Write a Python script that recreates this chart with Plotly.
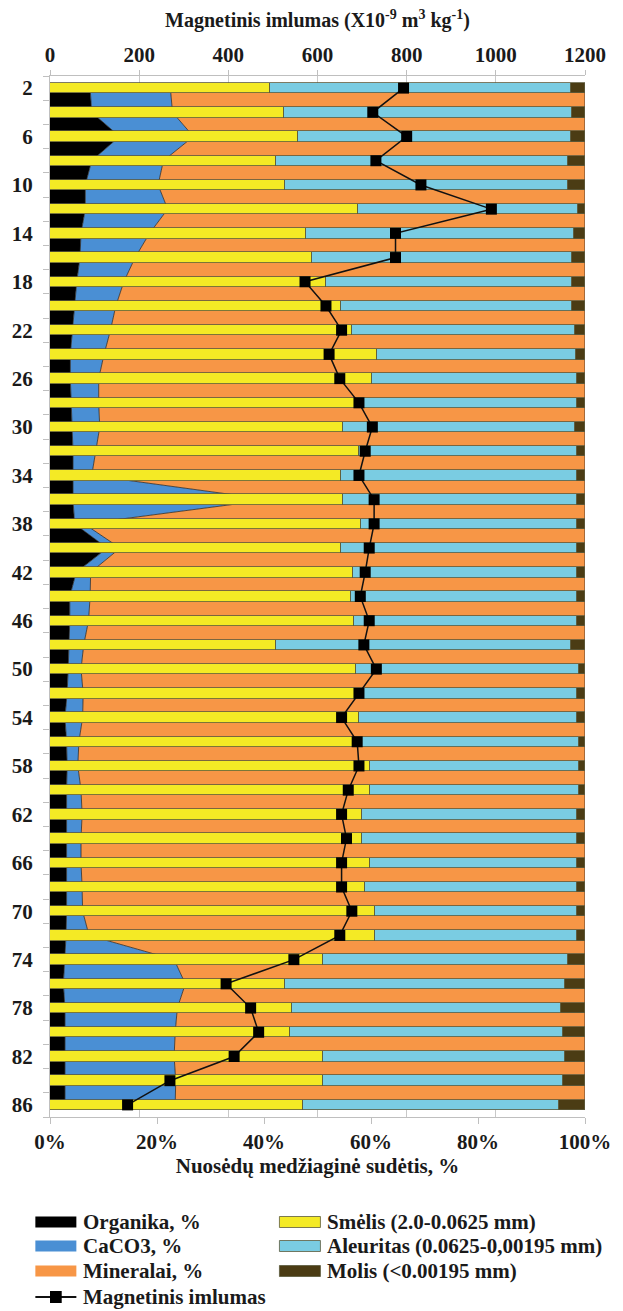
import plotly.graph_objects as go

# Depth of each sample (cm)
depth = list(range(2, 87, 2))

# Sediment composition, %
organika = [7.5, 7.8, 13.0, 7.8, 6.6, 6.6, 5.8, 5.6, 5.0, 4.6, 4.1, 3.8, 3.8, 4.0, 4.2,
            4.3, 4.3, 4.3, 4.6, 10.7, 4.9, 3.7, 3.7, 3.6, 3.4, 3.2, 2.8, 3.1, 3.2, 3.1,
            3.1, 3.2, 3.1, 3.1, 3.1, 3.0, 2.7, 2.5, 2.8, 2.8, 2.8, 2.8, 2.8]
caco3 = [15.0, 15.1, 13.8, 13.4, 13.6, 15.4, 12.8, 10.3, 8.8, 7.7, 7.2, 6.3, 5.3, 5.1, 5.1,
         4.3, 3.5, 36.7, 1.8, 2.4, 2.7, 3.8, 3.5, 2.7, 2.4, 3.0, 3.3, 2.3, 2.0, 2.7,
         2.9, 2.6, 2.7, 2.9, 3.0, 4.3, 20.5, 22.8, 21.0, 20.6, 20.4, 20.7, 20.6]
mineralai = [77.5, 77.1, 73.2, 78.8, 79.8, 78.0, 81.4, 84.1, 86.2, 87.7, 88.7, 89.9, 90.9, 90.9, 90.7,
             91.4, 92.2, 59.0, 93.6, 86.9, 92.4, 92.5, 92.8, 93.7, 94.2, 93.8, 93.9, 94.6, 94.8, 94.2,
             94.0, 94.2, 94.2, 94.0, 93.9, 92.7, 76.8, 74.7, 76.2, 76.6, 76.8, 76.5, 76.6]

# Grain size fractions, %
smelis = [41.1, 43.7, 46.3, 42.3, 43.9, 57.5, 47.8, 48.9, 51.5, 54.3, 56.5, 61.1, 60.2, 57.5, 54.7,
          57.8, 54.3, 54.7, 58.2, 54.3, 56.6, 56.2, 56.8, 42.3, 57.2, 57.2, 57.8, 57.2, 59.9, 59.9,
          58.4, 58.4, 59.9, 58.9, 60.8, 60.8, 51.1, 43.9, 45.3, 44.9, 51.1, 51.1, 47.2]
aleuritas = [56.2, 53.9, 51.0, 54.5, 52.9, 41.1, 50.1, 48.7, 46.1, 43.3, 41.7, 37.2, 38.3, 41.0, 43.5,
             40.7, 44.2, 43.8, 40.3, 44.2, 41.9, 42.3, 41.7, 55.0, 41.6, 41.3, 40.7, 41.6, 38.9, 38.9,
             40.1, 40.1, 38.6, 39.6, 37.7, 37.7, 45.7, 52.3, 50.3, 51.0, 45.1, 44.8, 47.9]
molis = [2.7, 2.4, 2.7, 3.2, 3.2, 1.4, 2.1, 2.4, 2.4, 2.4, 1.8, 1.7, 1.5, 1.5, 1.8,
         1.5, 1.5, 1.5, 1.5, 1.5, 1.5, 1.5, 1.5, 2.7, 1.2, 1.5, 1.5, 1.2, 1.2, 1.2,
         1.5, 1.5, 1.5, 1.5, 1.5, 1.5, 3.2, 3.8, 4.4, 4.1, 3.8, 4.1, 4.9]

# Magnetic susceptibility, x10^-9 m3/kg
magnetinis = [793, 724, 800, 731, 832, 990, 775, 775, 572, 619, 654, 626, 650, 693, 723,
              707, 693, 727, 727, 716, 707, 696, 716, 704, 732, 693, 654, 689, 693, 669,
              654, 665, 654, 654, 677, 650, 547, 395, 450, 468, 413, 269, 174]

depth_ticks = list(range(2, 87, 4))
pct_ticks = [0, 20, 40, 60, 80, 100]
pct_labels = ["0%", "20%", "40%", "60%", "80%", "100%"]
mag_ticks = [0, 200, 400, 600, 800, 1000, 1200]

SERIF = "Liberation Serif, Times New Roman, serif"
INK = "#1a1a1a"
GRID = "#c8c8c8"

W, H = 623, 1311
ML, MR, MT, MB = 48, 27, 76, 194
PW, PH = W - ML - MR, H - MT - MB


def bold(size):
    return dict(family=SERIF, size=size, color=INK, weight="bold")


composition = [
    ("Organika, %", organika, "#000000"),
    ("CaCO3, %", caco3, "#4A8FD4"),
    ("Mineralai, %", mineralai, "#F79646"),
]
grain = [
    ("Smėlis (2.0-0.0625 mm)", smelis, "#F4EA25"),
    ("Aleuritas (0.0625-0,00195 mm)", aleuritas, "#7ACCE2"),
    ("Molis (&lt;0.00195 mm)", molis, "#4B3C14"),
]

fig = go.Figure()

# Stacked composition profile (area) on the bottom % axis
for i, (name, vals, col) in enumerate(composition):
    fig.add_trace(go.Scatter(
        x=vals, y=depth, name=name, stackgroup="sudetis", orientation="h",
        groupnorm="percent" if i == 0 else None,
        mode="lines", line=dict(color="#2a2a2a", width=0.8),
        fillcolor=col, xaxis="x", yaxis="y", showlegend=False, hoverinfo="skip",
    ))

# Grain size bars on an overlaid % axis so they sit above the areas
for name, vals, col in grain:
    fig.add_trace(go.Bar(
        x=vals, y=depth, orientation="h", name=name, width=0.86,
        marker=dict(color=col, line=dict(color="#5c5a3c", width=0.8)),
        xaxis="x2", yaxis="y", showlegend=False,
    ))

# Magnetic susceptibility profile on the top axis
fig.add_trace(go.Scatter(
    x=magnetinis, y=depth, mode="lines+markers", name="Magnetinis imlumas",
    line=dict(color="#111111", width=1.5),
    marker=dict(symbol="square", size=11, color="#000000"),
    xaxis="x3", yaxis="y", showlegend=False,
))

fig.update_layout(
    width=W, height=H,
    margin=dict(l=ML, r=MR, t=MT, b=MB),
    paper_bgcolor="white", plot_bgcolor="white",
    font=dict(family=SERIF, color=INK),
    barmode="stack", bargap=0,
    showlegend=False,
    xaxis=dict(
        range=[0, 100], tickmode="array", tickvals=pct_ticks, ticktext=pct_labels,
        ticks="outside", ticklen=6, tickcolor="#bfbfbf",
        showline=True, linecolor="#bfbfbf", showgrid=False, zeroline=False,
        tickfont=bold(21),
        title=dict(text="Nuosėdų medžiaginė sudėtis, %", font=bold(21), standoff=5),
    ),
    xaxis2=dict(range=[0, 100], overlaying="x", tickmode="array", tickvals=[],
                showticklabels=False, ticks="", showline=False, showgrid=False,
                zeroline=False),
    xaxis3=dict(
        range=[0, 1200], tickmode="array", tickvals=mag_ticks, overlaying="x", side="top",
        ticks="outside", ticklen=5, tickcolor="#bfbfbf",
        showline=True, linecolor="#bfbfbf", showgrid=True, gridcolor=GRID,
        zeroline=False, tickfont=bold(21),
        title=dict(text="Magnetinis imlumas (X10<sup>-9</sup> m<sup>3</sup> kg<sup>-1</sup>)",
                   font=bold(20), standoff=9),
    ),
    yaxis=dict(
        range=[87, 1], tickmode="array", tickvals=depth_ticks,
        ticks="outside", ticklen=6, tickcolor="rgba(0,0,0,0)",
        minor=dict(tickmode="linear", tick0=1, dtick=2, ticks="outside",
                   ticklen=6, tickcolor="#bfbfbf", showgrid=False),
        showline=True, linecolor="#bfbfbf", showgrid=False, zeroline=False,
        tickfont=bold(21), ticklabelstandoff=6,
    ),
)


# Legend block below the chart, laid out in pixel units
def px_x(px):
    return (px - ML) / PW


def px_y(py):
    return (MT + PH - py) / PH


SW_W, SW_H = 42, 11
legend_rows = [1222, 1246, 1271]
shapes, notes = [], []


def swatch(x0, yc, color, outline):
    shapes.append(dict(
        type="rect", xref="paper", yref="paper",
        x0=px_x(x0), x1=px_x(x0 + SW_W), y0=px_y(yc + SW_H / 2), y1=px_y(yc - SW_H / 2),
        fillcolor=color, line=dict(color=outline, width=0.8 if outline else 0),
    ))


def label(x, yc, text):
    notes.append(dict(
        xref="paper", yref="paper", x=px_x(x), y=px_y(yc), text=text,
        showarrow=False, xanchor="left", yanchor="middle", font=bold(21),
    ))


for (name, _, col), yc in zip(composition, legend_rows):
    swatch(33, yc, col, None)
    label(80, yc, name)
for (name, _, col), yc in zip(grain, legend_rows):
    swatch(283, yc, col, "#5c5a3c")
    label(330, yc, name)

mag_row = 1297
shapes.append(dict(type="line", xref="paper", yref="paper",
                   x0=px_x(33), x1=px_x(75), y0=px_y(mag_row), y1=px_y(mag_row),
                   line=dict(color="#111111", width=2)))
shapes.append(dict(type="rect", xref="paper", yref="paper",
                   x0=px_x(48), x1=px_x(60), y0=px_y(mag_row + 6), y1=px_y(mag_row - 6),
                   fillcolor="#000000", line=dict(width=0)))
label(80, mag_row, "Magnetinis imlumas")

fig.update_layout(shapes=shapes, annotations=notes)

fig.write_html("out.html")
